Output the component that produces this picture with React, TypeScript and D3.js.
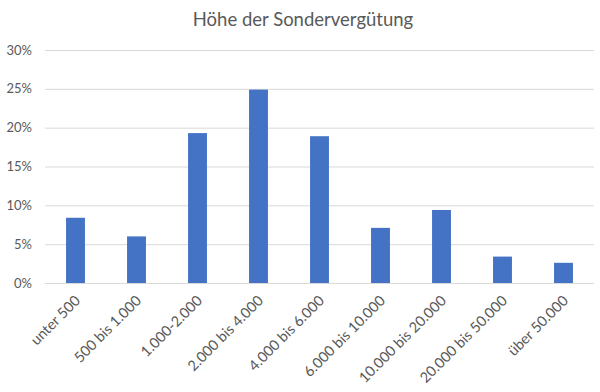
import { useEffect, useRef } from 'react';
import * as d3 from 'd3';

const categories = [
  'unter 500',
  '500 bis 1.000',
  '1.000-2.000',
  '2.000 bis 4.000',
  '4.000 bis 6.000',
  '6.000 bis 10.000',
  '10.000 bis 20.000',
  '20.000 bis 50.000',
  'über 50.000',
];
const shares = [8.4, 6.0, 19.3, 24.9, 18.9, 7.1, 9.4, 3.4, 2.6];
const yTicks = [0, 5, 10, 15, 20, 25, 30];
const title = 'Höhe der Sondervergütung';

const App = () => {
  const ref = useRef<SVGSVGElement>(null);

  useEffect(() => {
    const width = 600;
    const height = 392;
    const margin = { top: 50, right: 6, bottom: 109, left: 45 };
    const font = 'Lato, "Open Sans", sans-serif';
    const grey = '#595959';

    const svg = d3.select(ref.current);
    svg.selectAll('*').remove();
    svg.attr('width', width).attr('height', height);

    svg.append('rect').attr('width', width).attr('height', height).attr('fill', '#fff');

    const x = d3.scaleBand<string>()
      .domain(categories)
      .range([margin.left, width - margin.right])
      .paddingInner(0.69)
      .paddingOuter(0.345);

    const y = d3.scaleLinear()
      .domain([0, 30])
      .range([height - margin.bottom, margin.top]);

    // title
    svg.append('text')
      .attr('x', 303)
      .attr('y', 26)
      .attr('text-anchor', 'middle')
      .attr('font-family', font)
      .attr('font-size', 18.5)
      .attr('fill', grey)
      .text(title);

    // gridlines
    svg.append('g')
      .selectAll('line')
      .data(yTicks)
      .enter()
      .append('line')
      .attr('x1', margin.left)
      .attr('x2', width - margin.right)
      .attr('y1', d => y(d) + 0.5)
      .attr('y2', d => y(d) + 0.5)
      .attr('stroke', '#d9d9d9')
      .attr('stroke-width', 1);

    // y labels
    svg.append('g')
      .selectAll('text')
      .data(yTicks)
      .enter()
      .append('text')
      .attr('x', 32)
      .attr('y', d => y(d))
      .attr('dy', '0.35em')
      .attr('text-anchor', 'end')
      .attr('font-family', font)
      .attr('font-size', 13)
      .attr('fill', grey)
      .text(d => `${d}%`);

    // bars
    svg.append('g')
      .selectAll('rect')
      .data(shares)
      .enter()
      .append('rect')
      .attr('x', (d, i) => x(categories[i]) as number)
      .attr('y', d => y(d))
      .attr('width', x.bandwidth())
      .attr('height', d => y(0) - y(d))
      .attr('fill', '#4472c4');

    // x labels
    svg.append('g')
      .selectAll('text')
      .data(categories)
      .enter()
      .append('text')
      .attr('transform', d => `translate(${(x(d) as number) + x.bandwidth() / 2 + 2},${y(0) + 15}) rotate(-45)`)
      .attr('dy', '0.35em')
      .attr('text-anchor', 'end')
      .attr('font-family', font)
      .attr('font-size', 14.5)
      .attr('fill', grey)
      .text(d => d);
  }, []);

  return (
    <div style={{ position: 'absolute', left: 0, top: 0 }}>
      <svg ref={ref} style={{ display: 'block' }}></svg>
    </div>
  );
};

export default App;
